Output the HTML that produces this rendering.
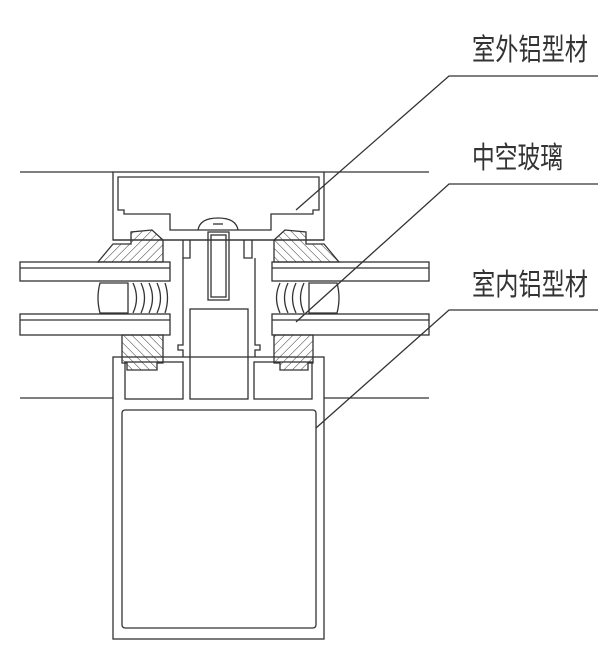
<!DOCTYPE html>
<html><head><meta charset="utf-8"><style>
html,body{margin:0;padding:0;background:#fff}
svg{display:block}
text{font-family:"Liberation Sans","Noto Sans CJK SC",sans-serif;font-size:30px;fill:#333}
</style></head><body>
<svg width="607" height="646" viewBox="0 0 607 646" xmlns="http://www.w3.org/2000/svg">
<defs>
<pattern id="h1" width="6" height="6" patternUnits="userSpaceOnUse" patternTransform="rotate(45)"><line x1="0" y1="0" x2="0" y2="6" stroke="#333" stroke-width="1"/></pattern>
<pattern id="h2" width="6" height="6" patternUnits="userSpaceOnUse" patternTransform="rotate(-45)"><line x1="0" y1="0" x2="0" y2="6" stroke="#333" stroke-width="1"/></pattern>
</defs>
<g fill="none" stroke="#333" stroke-width="1.3">
<line x1="20" y1="172" x2="113" y2="172"/><line x1="324" y1="172" x2="429" y2="172"/>
<line x1="20" y1="398" x2="113" y2="398"/><line x1="324" y1="398" x2="429" y2="398"/>
<rect x="113" y="172" width="211" height="68"/>
<path d="M118 177 H319 V210 H313 V214 H271 V230 H170 V214 H124 V210 H118 Z"/>
<line x1="113" y1="240" x2="324" y2="240"/>
<path d="M183 240 V258 H190 V240"/><path d="M244 240 V258 H252 V240"/>
<path d="M198 230 Q200 218 218 218 Q236 218 238 230"/>
<line x1="213" y1="224" x2="223" y2="224"/>
<rect x="208" y="232" width="21" height="68"/>
<rect x="211" y="235" width="15" height="62"/>
<rect x="20" y="262" width="150" height="19"/><line x1="20" y1="268" x2="170" y2="268"/>
<rect x="20" y="314" width="150" height="21"/><line x1="20" y1="320" x2="170" y2="320"/>
<rect x="272" y="262" width="157" height="19"/><line x1="272" y1="268" x2="429" y2="268"/>
<rect x="272" y="314" width="157" height="21"/><line x1="272" y1="320" x2="429" y2="320"/>
<path d="M98 262 L113 244 H131 V232 L152 230 L163 240 V262 Z" fill="url(#h1)"/>
<path d="M339 262 L324 244 H306 V232 L285 230 L274 240 V262 Z" fill="url(#h2)"/>
<path d="M100 283 Q96 298 100 313 H128 V283 Z"/>
<path d="M337 283 Q341 298 337 313 H309 V283 Z"/>
<path d="M133 283 Q140 298 133 313 M141 283 Q148 298 141 313 M149 283 Q156 298 149 313 M157 283 Q164 298 157 313 M165 283 Q170 298 165 313"/>
<path d="M304 283 Q297 298 304 313 M296 283 Q289 298 296 313 M288 283 Q281 298 288 313 M280 283 Q273 298 280 313"/>
<path d="M122 335 H163 V363 H157 V370 H127 V363 H122 Z" fill="url(#h2)"/>
<path d="M274 335 H313 V363 H308 V370 H280 V363 H274 Z" fill="url(#h1)"/>
<path d="M183 258 V345 H178 V350 H183 V357"/>
<path d="M255 258 V345 H260 V350 H255 V357"/>
<rect x="190" y="309" width="58" height="90"/>
<rect x="113" y="357" width="211" height="282"/>
<rect x="125" y="362" width="58" height="37"/>
<rect x="254" y="362" width="58" height="37"/>
<rect x="122" y="410" width="194" height="218" rx="3"/>
<polyline points="598,76 449,76 296,210"/>
<polyline points="598,184 449,184 296,322"/>
<polyline points="598,310 449,310 316,428"/>
</g>
<text x="472" y="60" textLength="116" lengthAdjust="spacingAndGlyphs">室外铝型材</text>
<text x="472" y="168" textLength="91" lengthAdjust="spacingAndGlyphs">中空玻璃</text>
<text x="472" y="295" textLength="116" lengthAdjust="spacingAndGlyphs">室内铝型材</text>
</svg>
</body></html>
